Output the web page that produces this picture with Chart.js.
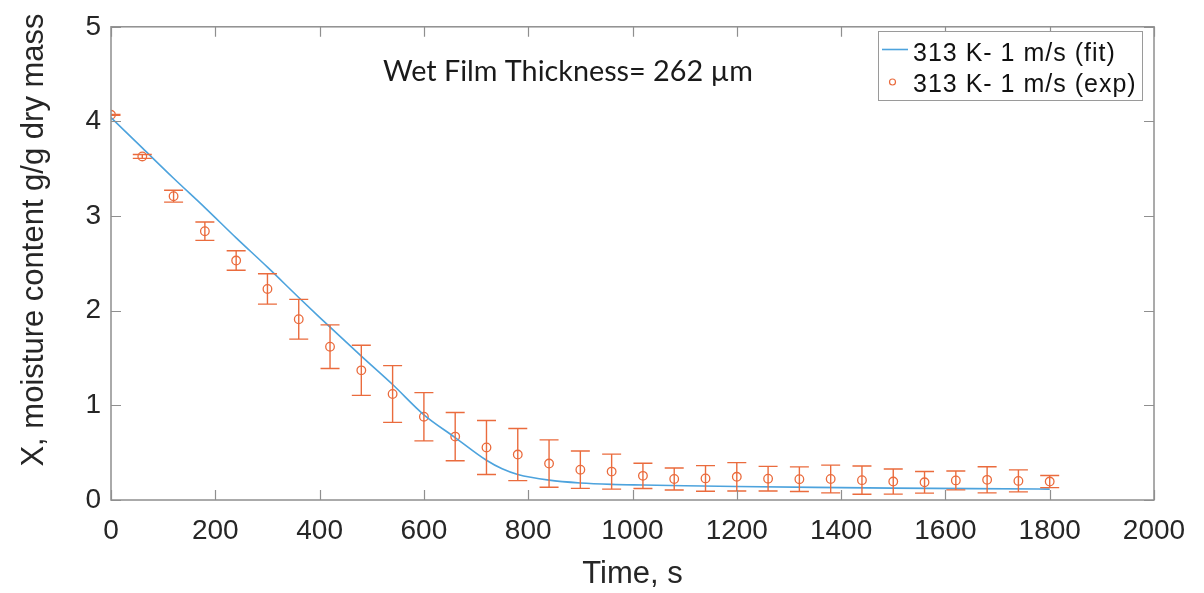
<!DOCTYPE html>
<html>
<head>
<meta charset="utf-8">
<script src="https://cdn.jsdelivr.net/npm/chart.js@4.4.1/dist/chart.umd.min.js"></script>
<style>
  html, body { margin: 0; padding: 0; background: #fff; }
  #wrap { width: 1204px; height: 593px; }
</style>
</head>
<body>
<div id="wrap"><canvas id="c" width="1204" height="593"></canvas></div>
<script>
// ---- data ----
const expTimes = [0,60,120,180,240,300,360,420,480,540,600,660,720,780,840,900,960,1020,1080,1140,1200,1260,1320,1380,1440,1500,1560,1620,1680,1740,1800];
const expMoisture = [4.07,3.63,3.21,2.84,2.53,2.23,1.91,1.62,1.37,1.12,0.88,0.67,0.555,0.48,0.385,0.32,0.30,0.255,0.222,0.228,0.245,0.225,0.22,0.222,0.21,0.195,0.187,0.207,0.213,0.202,0.195];
const expError = [0.005,0.02,0.063,0.097,0.103,0.16,0.21,0.23,0.265,0.30,0.255,0.255,0.285,0.275,0.25,0.197,0.185,0.133,0.116,0.135,0.15,0.13,0.13,0.147,0.15,0.133,0.114,0.1,0.138,0.116,0.064];
const fitTimes = [0,60,120,180,240,300,360,400,480,540,600,660,720,750,780,840,900,960,1020,1100,1200,1350,1500,1650,1800];
const fitMoisture = [4.04,3.72,3.40,3.09,2.77,2.46,2.14,1.93,1.52,1.22,0.90,0.66,0.42,0.33,0.27,0.21,0.18,0.165,0.158,0.15,0.142,0.133,0.126,0.12,0.115];
const xTickValues = [0,200,400,600,800,1000,1200,1400,1600,1800,2000];
const yTickValues = [0,1,2,3,4,5];
const fitLabel = '313 K- 1 m/s (fit)';
const expLabel = '313 K- 1 m/s (exp)';
const annotationText = 'Wet Film Thickness= 262 \u00B5m';
const xTitle = 'Time, s';
const yTitle = 'X, moisture content g/g dry mass';

const BLUE = '#4DA3DD';
const ORANGE = '#EA6B3D';
const AXIS = '#8f8f8f';
const TEXT = '#262626';
const TICKFONT = "'Liberation Sans', Arial, sans-serif";

const errorBars = {
  id: 'errorBars',
  afterDatasetsDraw(chart) {
    const ctx = chart.ctx, a = chart.chartArea, xs = chart.scales.x, ys = chart.scales.y;
    ctx.save();
    ctx.beginPath();
    ctx.rect(a.left, a.top, a.right - a.left, a.bottom - a.top);
    ctx.clip();
    ctx.strokeStyle = ORANGE;
    ctx.lineWidth = 1.4;
    expTimes.forEach((t, i) => {
      const px = xs.getPixelForValue(t);
      const yt = ys.getPixelForValue(expMoisture[i] + expError[i]);
      const yb = ys.getPixelForValue(expMoisture[i] - expError[i]);
      ctx.beginPath();
      ctx.moveTo(px, yt); ctx.lineTo(px, yb);
      ctx.moveTo(px - 9.5, yt); ctx.lineTo(px + 9.5, yt);
      ctx.moveTo(px - 9.5, yb); ctx.lineTo(px + 9.5, yb);
      ctx.stroke();
    });
    ctx.restore();
  }
};

const frame = {
  id: 'frame',
  afterDraw(chart) {
    const ctx = chart.ctx, a = chart.chartArea, xs = chart.scales.x, ys = chart.scales.y;
    ctx.save();
    ctx.strokeStyle = AXIS;
    ctx.lineWidth = 1.5;
    ctx.strokeRect(a.left, a.top, a.right - a.left, a.bottom - a.top);
    ctx.lineWidth = 1.2;
    ctx.beginPath();
    xTickValues.forEach(v => {
      const px = Math.round(xs.getPixelForValue(v)) + 0.5;
      ctx.moveTo(px, a.bottom); ctx.lineTo(px, a.bottom - 10);
      ctx.moveTo(px, a.top); ctx.lineTo(px, a.top + 10);
    });
    yTickValues.forEach(v => {
      const py = Math.round(ys.getPixelForValue(v)) + 0.5;
      ctx.moveTo(a.left, py); ctx.lineTo(a.left + 10, py);
      ctx.moveTo(a.right, py); ctx.lineTo(a.right - 10, py);
    });
    ctx.stroke();

    // y axis title
    ctx.fillStyle = TEXT;
    ctx.font = "31px " + TICKFONT;
    ctx.textAlign = 'center';
    ctx.textBaseline = 'alphabetic';
    ctx.save();
    ctx.translate(43, 240);
    ctx.rotate(-Math.PI / 2);
    ctx.fillText(yTitle, 0, 0);
    ctx.restore();

    // annotation
    ctx.fillStyle = '#1a1a1a';
    ctx.textAlign = 'left';
    let fs = 28;
    ctx.font = fs + "px Lato, 'Open Sans', sans-serif";
    const w = ctx.measureText(annotationText).width;
    fs = fs * 370 / w;
    ctx.font = fs.toFixed(2) + "px Lato, 'Open Sans', sans-serif";
    ctx.fillText(annotationText, 383, 81);

    // legend
    ctx.fillStyle = '#fff';
    ctx.fillRect(878.5, 31.5, 264, 69);
    ctx.strokeStyle = '#9a9a9a';
    ctx.lineWidth = 1;
    ctx.strokeRect(878.5, 31.5, 264, 69);
    ctx.strokeStyle = BLUE;
    ctx.lineWidth = 1.6;
    ctx.beginPath(); ctx.moveTo(882, 49.5); ctx.lineTo(908, 49.5); ctx.stroke();
    ctx.strokeStyle = ORANGE;
    ctx.lineWidth = 1.2;
    ctx.beginPath(); ctx.arc(892.5, 82, 3, 0, Math.PI * 2); ctx.stroke();
    ctx.fillStyle = '#111';
    ctx.font = "25px " + TICKFONT;
    ctx.letterSpacing = '1px';
    ctx.fillText(fitLabel, 913, 61);
    ctx.fillText(expLabel, 913, 92);
    ctx.letterSpacing = '0px';
    ctx.restore();
  }
};

new Chart(document.getElementById('c'), {
  type: 'line',
  data: {
    datasets: [
      {
        label: fitLabel,
        data: fitTimes.map((t, i) => ({ x: t, y: fitMoisture[i] })),
        borderColor: BLUE,
        borderWidth: 1.6,
        pointRadius: 0,
        fill: false,
        cubicInterpolationMode: 'monotone'
      },
      {
        label: expLabel,
        data: expTimes.map((t, i) => ({ x: t, y: expMoisture[i] })),
        showLine: false,
        borderColor: ORANGE,
        backgroundColor: 'rgba(0,0,0,0)',
        pointStyle: 'circle',
        pointRadius: 4.3,
        pointBorderWidth: 1.3
      }
    ]
  },
  options: {
    responsive: false,
    animation: false,
    devicePixelRatio: 1,
    layout: { padding: { top: 16, right: 50, left: 0, bottom: 0 } },
    plugins: { legend: { display: false }, tooltip: { enabled: false } },
    scales: {
      x: {
        type: 'linear',
        min: 0, max: 2000,
        afterBuildTicks: s => { s.ticks = xTickValues.map(v => ({ value: v })); },
        afterFit: s => { s.height = 93; },
        grid: { display: false, drawTicks: false },
        border: { display: false },
        ticks: { padding: 14, color: TEXT, font: { family: TICKFONT, size: 28 }, maxRotation: 0, autoSkip: false, callback: v => String(v) },
        title: { display: true, text: xTitle, color: TEXT, font: { family: TICKFONT, size: 31 }, padding: { top: 0, bottom: 0 } }
      },
      y: {
        type: 'linear',
        min: 0, max: 5,
        afterBuildTicks: s => { s.ticks = yTickValues.map(v => ({ value: v })); },
        afterFit: s => { s.width = 111; },
        grid: { display: false, drawTicks: false },
        border: { display: false },
        ticks: { padding: 10, color: TEXT, font: { family: TICKFONT, size: 28 }, callback: v => String(v) }
      }
    }
  },
  plugins: [errorBars, frame]
});
</script>
</body>
</html>
